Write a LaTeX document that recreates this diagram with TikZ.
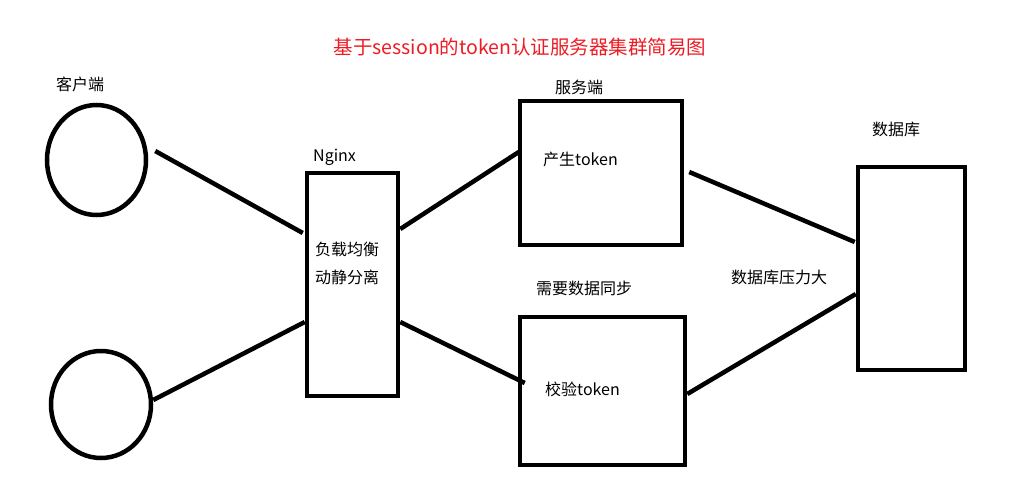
\documentclass[tikz,border=0pt]{standalone}
\usepackage{fontspec}
\setmainfont{Noto Sans CJK SC}
\usetikzlibrary{shapes.geometric}
\definecolor{titlered}{RGB}{237,28,36}
\tikzset{
  box/.style={draw, line width=4.5pt, rectangle, inner sep=0pt},
  client/.style={draw, line width=4.5pt, ellipse, inner sep=0pt},
  link/.style={line width=4.5pt},
  lbl/.style={anchor=west, inner sep=0pt, font=\fontsize{16}{16}\selectfont},
}
\begin{document}
\begin{tikzpicture}[x=1pt,y=-1pt]
\useasboundingbox (0,0) rectangle (1028,503);
\node[anchor=center, inner sep=0pt, text=titlered, font=\fontsize{19.5}{20}\selectfont] (title) at (520,47) {基于session的token认证服务器集群简易图};
% shapes
\node[client, minimum width=99pt, minimum height=110pt] (c1) at (96.5,160) {};
\node[client, minimum width=100pt, minimum height=107pt] (c2) at (101,404.5) {};
\node[box, minimum width=91pt, minimum height=223pt] (nginx) at (352.5,284.5) {};
\node[box, minimum width=162pt, minimum height=144pt] (srv1) at (601,173) {};
\node[box, minimum width=165pt, minimum height=148pt] (srv2) at (602.5,391) {};
\node[box, minimum width=107pt, minimum height=203pt] (db) at (911.5,268.5) {};
% labels
\node[lbl] (lc) at (56,84) {客户端};
\node[lbl] (ln) at (313,157) {Nginx};
\node[lbl] (ln1) at (315,249) {负载均衡};
\node[lbl] (ln2) at (315,277) {动静分离};
\node[lbl] (ls) at (555,87) {服务端};
\node[lbl] (ls1) at (543,159) {产生token};
\node[lbl] (lsync) at (536,288) {需要数据同步};
\node[lbl] (ls2) at (545,389) {校验token};
\node[lbl] (ldb) at (872,129) {数据库};
\node[lbl] (lp) at (731,277) {数据库压力大};
% connectors
\draw[link] ([shift={(7,-9)}]c1.east) -- ([shift={(-2,-51.5)}]nginx.west);
\draw[link] ([shift={(0,-4.5)}]c2.east) -- ([shift={(0,37.5)}]nginx.west);
\draw[link] ([shift={(0,-55.5)}]nginx.east) -- ([shift={(1,-21)}]srv1.west);
\draw[link] ([shift={(0,37.5)}]nginx.east) -- ([shift={(7,-8)}]srv2.west);
\draw[link] ([shift={(5,-1)}]srv1.east) -- ([shift={(-1,-26.5)}]db.west);
\draw[link] ([shift={(0,3)}]srv2.east) -- ([shift={(0,25.5)}]db.west);
\end{tikzpicture}
\end{document}
